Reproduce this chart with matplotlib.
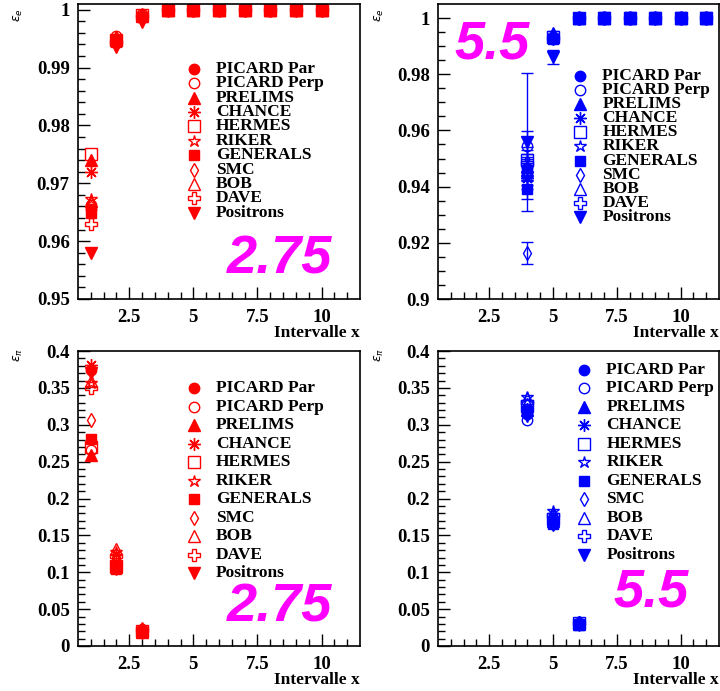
import numpy as np
import matplotlib.pyplot as plt

# series names (same order in every panel)
names = ['PICARD Par', 'PICARD Perp', 'PRELIMS', 'CHANCE', 'HERMES', 'RIKER',
         'GENERALS', 'SMC', 'BOB', 'DAVE', 'Positrons']

# electron efficiency, 2.75 setting, x intervals 1..10
x_e275 = [1, 2, 3, 4, 5, 6, 7, 8, 9, 10]
e275_low = [  # values at x = 1, 2, 3 ; x >= 4 are 1.0
    [0.9655, 0.9950, 0.9990],
    [0.9662, 0.9955, 0.9992],
    [0.9740, 0.9948, 0.9990],
    [0.9720, 0.9946, 0.9989],
    [0.9750, 0.9947, 0.9991],
    [0.9673, 0.9953, 0.9992],
    [0.9648, 0.9944, 0.9988],
    [0.9664, 0.9951, 0.9990],
    [0.9670, 0.9952, 0.9991],
    [0.9630, 0.9945, 0.9989],
    [0.9580, 0.9936, 0.9979],
]

# electron efficiency, 5.5 setting, x intervals 4..11
x_e55 = [4, 5, 6, 7, 8, 9, 10, 11]
e55_low = [  # values at x = 4, 5, 6 ; x >= 7 are 1.0
    [0.9465, 0.9930, 1.0],
    [0.9545, 0.9932, 1.0],
    [0.9475, 0.9945, 1.0],
    [0.9430, 0.9928, 1.0],
    [0.9495, 0.9931, 1.0],
    [0.9445, 0.9934, 1.0],
    [0.9390, 0.9927, 1.0],
    [0.9163, 0.9929, 1.0],
    [0.9460, 0.9933, 1.0],
    [0.9485, 0.9930, 1.0],
    [0.9560, 0.9860, 0.9995],
]
e55_err = [  # errors at x = 4, 5
    [0.0040, 0.0010], [0.0053, 0.0010], [0.0040, 0.0010], [0.0040, 0.0010],
    [0.0045, 0.0010], [0.0040, 0.0010], [0.0035, 0.0010], [0.0040, 0.0010],
    [0.0040, 0.0010], [0.0045, 0.0010], [0.0245, 0.0025],
]

# pion efficiency, 2.75 setting, x = 1, 2, 3
x_p275 = [1, 2, 3]
p275 = [
    [0.374, 0.110, 0.020],
    [0.266, 0.112, 0.021],
    [0.259, 0.107, 0.019],
    [0.381, 0.125, 0.022],
    [0.270, 0.108, 0.020],
    [0.357, 0.128, 0.023],
    [0.281, 0.105, 0.019],
    [0.306, 0.118, 0.021],
    [0.360, 0.131, 0.024],
    [0.350, 0.122, 0.022],
    [0.370, 0.104, 0.018],
]

# pion efficiency, 5.5 setting, x = 4, 5, 6
x_p55 = [4, 5, 6]
p55 = [
    [0.315, 0.165, 0.030],
    [0.307, 0.168, 0.031],
    [0.320, 0.170, 0.030],
    [0.322, 0.175, 0.031],
    [0.326, 0.172, 0.031],
    [0.338, 0.183, 0.032],
    [0.318, 0.166, 0.029],
    [0.327, 0.176, 0.031],
    [0.336, 0.181, 0.032],
    [0.331, 0.178, 0.031],
    [0.312, 0.164, 0.029],
]

# marker style per series: (marker, filled, size)
styles = [('o', True, 7.5), ('o', False, 7.5), ('^', True, 8), ((8, 2, 0), False, 9),
          ('s', False, 8), ('*', False, 9), ('s', True, 7.5), ('d', False, 7.5),
          ('^', False, 8), ('P', False, 8.5), ('v', True, 8)]

SERIF = 'Liberation Serif'


def full_row(low, n):
    row = list(low) + [1.0] * (n - len(low))
    return row


def mk(i, color):
    m, filled, s = styles[i]
    return dict(marker=m, ms=s, mec=color, mfc=color if filled else 'none',
                mew=1.0, linestyle='none', color=color)


def setup(ax, ylim, major, minor, ylab):
    ax.set_xlim(0.5, 11.5)
    ax.set_ylim(*ylim)
    ax.set_xticks([2.5, 5, 7.5, 10])
    ax.set_xticklabels(['2.5', '5', '7.5', '10'])
    ax.set_xticks(np.arange(1, 11.5, 0.5), minor=True)
    ax.set_yticks(major)
    ax.set_yticks(minor, minor=True)
    ax.tick_params(which='both', direction='in', top=False, right=False, width=1)
    ax.tick_params(which='major', length=8.5)
    ax.tick_params(which='minor', length=5)
    ax.tick_params(axis='x', which='major', pad=7)
    ax.tick_params(axis='y', which='major', pad=6)
    for lab in ax.get_xticklabels() + ax.get_yticklabels():
        lab.set_fontfamily(SERIF)
        lab.set_fontweight('bold')
        lab.set_fontsize(13.5)
    for sp in ax.spines.values():
        sp.set_linewidth(1.2)
    ax.text(1.0, -0.115, 'Intervalle x', transform=ax.transAxes, ha='right', va='center',
            fontfamily=SERIF, fontweight='bold', fontsize=12.5)
    ax.text(-0.21, ylab, r'$\varepsilon_{%s}$' % ('e' if ylim[1] > 0.5 else r'\pi'),
            transform=ax.transAxes, rotation=90, ha='center', va='center', fontsize=9)


def legend(ax, color, xm, xt, y0, step):
    for i, nm in enumerate(names):
        y = y0 - i * step
        ax.plot([xm], [y], transform=ax.transAxes, clip_on=False, **mk(i, color))
        ax.text(xt, y, nm, transform=ax.transAxes, ha='left', va='center',
                fontfamily=SERIF, fontweight='bold', fontsize=12.5)


def big(ax, s, x, y, ha):
    ax.text(x, y, s, transform=ax.transAxes, ha=ha, va='center', color='#ff00ff',
            fontfamily='Liberation Sans', fontweight='bold', fontstyle='italic', fontsize=39)


fig = plt.figure(figsize=(7.2, 6.91), dpi=100)
W, H = 720, 691


def axes_px(l, r, t, b):
    return fig.add_axes([l / W, 1 - b / H, (r - l) / W, (b - t) / H])


red, blue = '#ff0000', '#0000ff'

# top left
ax = axes_px(78, 360, 4, 299)
setup(ax, (0.95, 1.001), np.arange(0.95, 1.0001, 0.01), np.arange(0.95, 1.0001, 0.002), 0.963)
ax.set_yticklabels(['0.95', '0.96', '0.97', '0.98', '0.99', '1'])
for i in range(len(names)):
    ax.plot(x_e275, full_row(e275_low[i], len(x_e275)), **mk(i, red))
legend(ax, red, 0.411, 0.489, 0.780, 0.0488)
big(ax, '2.75', 0.90, 0.135, 'right')

# top right
ax = axes_px(438, 719, 4, 299)
setup(ax, (0.9, 1.005), np.arange(0.9, 1.0001, 0.02), np.arange(0.9, 1.0001, 0.005), 0.963)
ax.set_yticklabels(['0.9', '0.92', '0.94', '0.96', '0.98', '1'])
for i in range(len(names)):
    yv = full_row(e55_low[i], len(x_e55))
    err = list(e55_err[i]) + [0.0] * (len(x_e55) - 2)
    ax.errorbar(x_e55, yv, yerr=err, capsize=4.5, elinewidth=1, capthick=1, **mk(i, blue))
legend(ax, blue, 0.504, 0.585, 0.756, 0.0478)
big(ax, '5.5', 0.06, 0.862, 'left')

# bottom left
ax = axes_px(78, 360, 351, 646)
setup(ax, (0, 0.4), np.arange(0, 0.401, 0.05), np.arange(0, 0.401, 0.01), 0.986)
ax.set_yticklabels(['0', '0.05', '0.1', '0.15', '0.2', '0.25', '0.3', '0.35', '0.4'])
for i in range(len(names)):
    ax.plot(x_p275, p275[i], **mk(i, red))
legend(ax, red, 0.411, 0.489, 0.874, 0.0627)
big(ax, '2.75', 0.90, 0.13, 'right')

# bottom right
ax = axes_px(438, 719, 351, 646)
setup(ax, (0, 0.4), np.arange(0, 0.401, 0.05), np.arange(0, 0.401, 0.01), 0.986)
ax.set_yticklabels(['0', '0.05', '0.1', '0.15', '0.2', '0.25', '0.3', '0.35', '0.4'])
for i in range(len(names)):
    ax.plot(x_p55, p55[i], **mk(i, blue))
legend(ax, blue, 0.521, 0.599, 0.936, 0.0627)
big(ax, '5.5', 0.894, 0.18, 'right')

fig.savefig('out.png', dpi=100)
